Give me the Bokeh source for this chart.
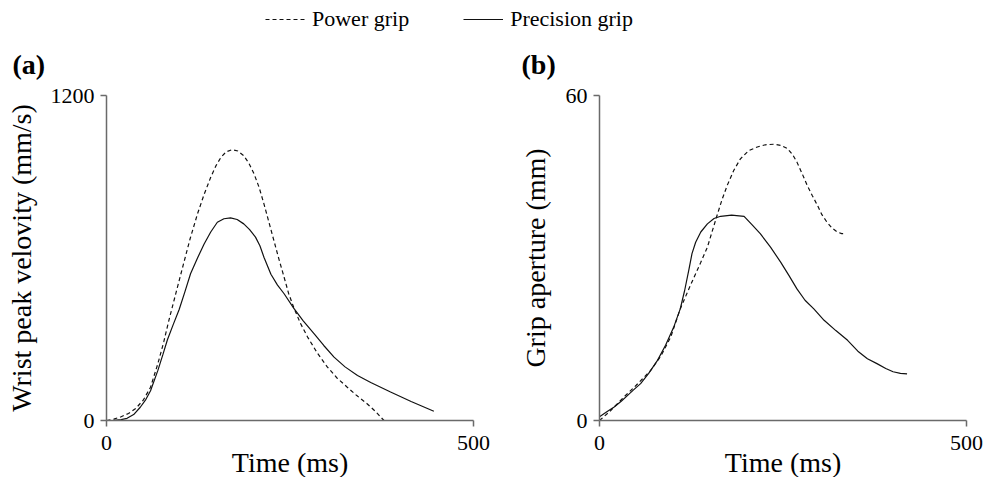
from bokeh.plotting import figure
from bokeh.models import Range1d, FixedTicker, Legend, LegendItem, Label
from bokeh.layouts import column, row
from bokeh.embed import file_html
from bokeh.resources import INLINE

# ---------------- data ----------------
series_names = ["Power grip", "Precision grip"]

# Panel (a): wrist peak velocity (mm/s) vs time (ms)
time_power_a = [0, 10, 20, 30, 40, 50, 60, 70, 78, 85, 95, 105, 114, 124, 133, 142, 149, 156, 163, 171,
                179, 187, 194, 201, 208, 214.5, 221, 228, 235, 242, 248, 255, 264, 274, 287, 301, 314,
                328, 341, 355, 367, 378]
vel_power_a = [0, 5, 14, 26, 45, 75, 123, 210, 290, 370, 475, 579, 672, 763, 835, 898, 940, 972, 992, 1000,
               995, 978, 950, 911, 860, 800, 735, 665, 595, 529, 470, 418, 360, 308, 250, 197, 157,
               123, 92, 62, 32, 0]

time_prec_a = [0, 10, 20, 28, 37, 46, 53, 60, 70, 77, 83, 91, 99, 107, 114.5, 124, 133, 142, 151, 160,
               169, 178, 187, 195, 203, 209, 214.5, 224, 233, 242, 255, 268, 283, 296, 310, 325, 342,
               360, 387, 415, 446]
vel_prec_a = [0, 1, 3, 8, 22, 49, 75, 110, 185, 245, 298, 355, 410, 477, 542, 600, 652, 696, 732, 745,
              748, 742, 726, 705, 677, 645, 603, 540, 500, 468, 415, 368, 320, 277, 234, 198, 166,
              140, 105, 70, 34]

# Panel (b): grip aperture (mm) vs time (ms)
time_power_b = [0, 15, 33, 50, 69.5, 84, 97, 110, 124, 138, 147, 160, 167, 174, 183, 192, 203, 215, 226,
                237.5, 247, 256, 263, 269, 276, 283, 290, 297, 303, 310, 317, 324, 330, 335]
ap_power_b = [0, 1.8, 4.3, 6.5, 9.2, 12.0, 15.4, 20.6, 25.0, 29.2, 32.0, 37.8, 40.8, 43.4, 46.2, 48.3, 49.8,
              50.5, 50.9, 51.0, 50.8, 50.2, 49.1, 47.7, 45.6, 43.4, 41.5, 39.7, 38.0, 36.6, 35.5, 34.8,
              34.5, 34.5]

time_prec_b = [0, 10, 20, 30, 38, 46, 56, 67, 79, 90, 101, 110, 116, 122, 126, 131, 138, 147, 156, 165,
               180, 197, 208, 219, 233, 247, 258, 269, 280, 292, 306, 322, 338, 352, 365, 378, 390, 400,
               410, 419]
ap_prec_b = [0.7, 1.6, 2.5, 3.6, 4.6, 5.6, 6.8, 8.7, 11.1, 13.9, 17.2, 20.6, 24.0, 28.0, 30.8, 32.9, 34.8,
             36.3, 37.3, 37.7, 37.9, 37.7, 36.1, 34.5, 32.0, 29.2, 26.8, 24.3, 22.2, 20.6, 18.5, 16.6,
             14.8, 12.8, 11.4, 10.5, 9.6, 9.0, 8.7, 8.6]

x_ticks = [0, 500]
y_ticks_a = [0, 1200]
y_ticks_b = [0, 60]
panel_labels = ["(a)", "(b)"]
x_label = "Time (ms)"
y_labels = ["Wrist peak velovity (mm/s)", "Grip aperture (mm)"]

# ---------------- style ----------------
FONT = "Liberation Serif"
AXIS_COLOR = "#6a6a6a"
LINE_COLOR = "#111111"
DASH = "4 3"
HEAD_H = 82           # height of the strip holding the legend and panel letters
FRAME_TOP = 95        # page y of the plot frames' top edge


def make_panel(ylab, yticks, border_left, border_right, ylab_standoff, t_pw, v_pw, t_pr, v_pr):
    p = figure(frame_width=367, frame_height=325,
               x_range=Range1d(x_ticks[0], x_ticks[-1]),
               y_range=Range1d(yticks[0], yticks[-1]),
               toolbar_location=None, output_backend="svg", title_location=None,
               min_border_left=border_left, min_border_right=border_right,
               min_border_top=FRAME_TOP - HEAD_H, min_border_bottom=57,
               outline_line_color=None, background_fill_color="white",
               border_fill_color="white")
    p.grid.visible = False

    p.line(t_pw, v_pw, line_color=LINE_COLOR, line_width=1.2, line_dash=DASH)
    p.line(t_pr, v_pr, line_color=LINE_COLOR, line_width=1.2)

    for ax in (p.xaxis[0], p.yaxis[0]):
        ax.axis_line_color = AXIS_COLOR
        ax.axis_line_width = 1.5
        ax.major_tick_line_color = AXIS_COLOR
        ax.major_tick_line_width = 1.5
        ax.major_tick_out = 6
        ax.major_tick_in = 0
        ax.minor_tick_line_color = None
        ax.major_label_text_font = FONT
        ax.major_label_text_font_size = "22px"
        ax.major_label_text_color = "black"
        ax.axis_label_text_font = FONT
        ax.axis_label_text_font_size = "28px"
        ax.axis_label_text_font_style = "normal"
        ax.axis_label_text_color = "black"

    p.xaxis.ticker = FixedTicker(ticks=x_ticks)
    p.yaxis.ticker = FixedTicker(ticks=yticks)
    p.xaxis.axis_label = x_label
    p.yaxis.axis_label = ylab
    p.xaxis.major_label_standoff = 9
    p.xaxis.axis_label_standoff = -6
    p.yaxis.major_label_standoff = 6
    p.yaxis.axis_label_standoff = ylab_standoff
    return p


pa = make_panel(y_labels[0], y_ticks_a, 106, 20, 11,
                time_power_a, vel_power_a, time_prec_a, vel_prec_a)
pb = make_panel(y_labels[1], y_ticks_b, 106, 20, 12,
                time_power_b, ap_power_b, time_prec_b, ap_prec_b)

# ---------------- header strip: shared legend + panel letters ----------------
pl = figure(width=986, height=HEAD_H, toolbar_location=None, output_backend="svg",
            x_range=Range1d(0, 1), y_range=Range1d(0, 1),
            x_axis_location=None, y_axis_location=None,
            min_border=0, outline_line_color=None)
pl.grid.visible = False
r_pw = pl.line([float("nan")], [float("nan")], line_color=LINE_COLOR, line_width=1.2, line_dash=DASH)
r_pr = pl.line([float("nan")], [float("nan")], line_color=LINE_COLOR, line_width=1.2)
legend = Legend(items=[LegendItem(label=series_names[0], renderers=[r_pw]),
                       LegendItem(label=series_names[1], renderers=[r_pr])],
                orientation="horizontal", location=(265, HEAD_H - 32),
                glyph_width=40, glyph_height=20, label_standoff=7, spacing=54,
                padding=0, margin=0, border_line_color=None,
                background_fill_alpha=0,
                label_text_font=FONT, label_text_font_size="22px",
                label_text_color="black")
pl.add_layout(legend, "center")

for txt, sx in zip(panel_labels, [12, 521]):
    pl.add_layout(Label(x=sx, y=HEAD_H - 48, x_units="screen", y_units="screen", text=txt,
                        text_font=FONT, text_font_size="28px", text_font_style="bold",
                        text_color="black", text_baseline="top", text_align="left"))

layout = column(pl, row(pa, pb, spacing=0), spacing=0)

open("out.html", "w").write(file_html(layout, INLINE))
